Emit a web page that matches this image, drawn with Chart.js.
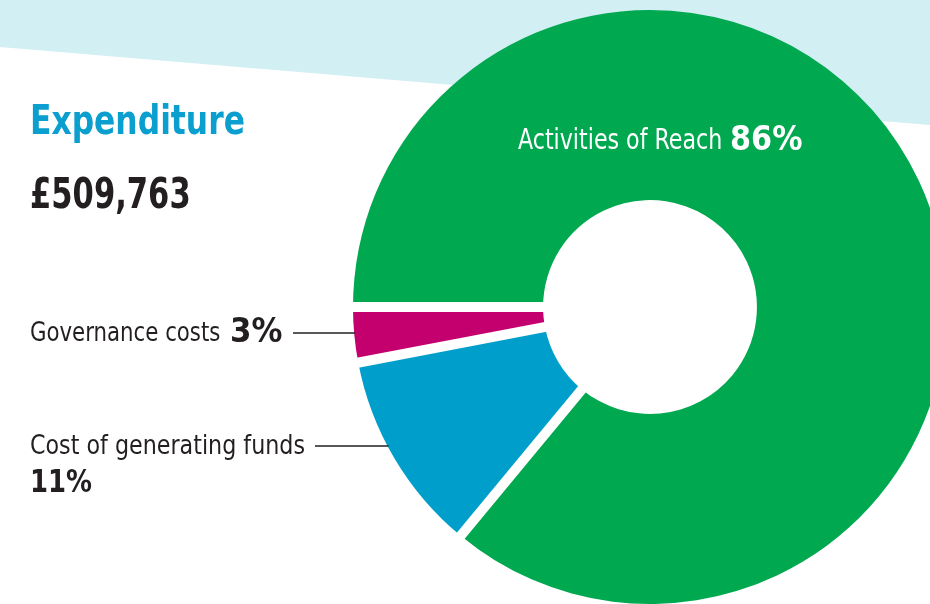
<!DOCTYPE html>
<html>
<head>
<meta charset="utf-8">
<script src="https://cdn.jsdelivr.net/npm/chart.js@4.4.0/dist/chart.umd.min.js"></script>
<style>
  html, body { margin:0; padding:0; width:930px; height:604px; overflow:hidden; background:#ffffff; }
  #band { position:absolute; left:0; top:0; width:930px; height:604px; background:#d2eff3;
          clip-path: polygon(0 0, 930px 0, 930px 125px, 0 47px); }
  #wrap { position:absolute; left:0; top:0; width:947px; height:604px; }
  .t { position:absolute; white-space:nowrap; line-height:1; transform-origin:0 0;
       font-family:"Liberation Sans Narrow","DejaVu Sans Condensed","Roboto Condensed","Liberation Sans",sans-serif; }
  .b { font-weight:bold; }
</style>
</head>
<body>
<div id="band"></div>
<div id="wrap"><canvas id="c"></canvas></div>
<div class="t b" id="title" style="left:30px;top:100px;font-size:41px;color:#0a9fce;transform:scaleX(0.85);"></div>
<div class="t b" id="total" style="left:30px;top:173px;font-size:42px;color:#231f20;transform:scaleX(0.81);"></div>
<div class="t" id="lblGov" style="left:30px;top:319px;font-size:26px;color:#231f20;transform:scaleX(0.91);"></div>
<div class="t b" id="lblGovPct" style="left:230px;top:314px;font-size:33px;color:#231f20;transform:scaleX(1.04);"></div>
<div class="t" id="lblCost" style="left:30px;top:432px;font-size:26px;color:#231f20;transform:scaleX(0.95);"></div>
<div class="t b" id="lblCostPct" style="left:30px;top:465px;font-size:32px;color:#231f20;transform:scaleX(0.9);"></div>
<div class="t" id="lblAct" style="left:518px;top:126px;font-size:28px;color:#ffffff;transform:scaleX(0.88);"></div>
<div class="t b" id="lblActPct" style="left:730px;top:121px;font-size:34px;color:#ffffff;transform:scaleX(0.99);"></div>
<script>
const titleText = 'Expenditure';
const totalText = '£509,763';
const categories = ['Activities of Reach', 'Cost of generating funds', 'Governance costs'];
const values = [86, 11, 3];
const colors = ['#00a84f', '#009fcb', '#c4006e'];

document.getElementById('title').textContent = titleText;
document.getElementById('total').textContent = totalText;
document.getElementById('lblGov').textContent = categories[2];
document.getElementById('lblGovPct').textContent = values[2] + '%';
document.getElementById('lblCost').textContent = categories[1];
document.getElementById('lblCostPct').textContent = values[1] + '%';
document.getElementById('lblAct').textContent = categories[0];
document.getElementById('lblActPct').textContent = values[0] + '%';

// white radial separators between slices + leader lines
const decoPlugin = {
  id: 'deco',
  afterDatasetsDraw(chart) {
    const ctx = chart.ctx;
    const meta = chart.getDatasetMeta(0);
    const a0 = meta.data[0];
    const cx = a0.x, cy = a0.y, R = a0.outerRadius, r = a0.innerRadius;
    ctx.save();
    ctx.beginPath();
    ctx.arc(cx, cy, R + 0.5, 0, Math.PI * 2);
    ctx.clip();
    ctx.strokeStyle = '#ffffff';
    ctx.lineWidth = 10;
    meta.data.forEach(arc => {
      const ang = arc.startAngle;
      ctx.beginPath();
      ctx.moveTo(cx + Math.cos(ang) * (r - 2), cy + Math.sin(ang) * (r - 2));
      ctx.lineTo(cx + Math.cos(ang) * (R + 2), cy + Math.sin(ang) * (R + 2));
      ctx.stroke();
    });
    ctx.restore();

    const leaders = [ {idx: 2, x0: 293, y: 333}, {idx: 1, x0: 315, y: 446} ];
    ctx.save();
    ctx.strokeStyle = '#231f20';
    ctx.lineWidth = 1.3;
    leaders.forEach(l => {
      const arc = meta.data[l.idx];
      const dy = l.y - arc.y;
      const x1 = arc.x - Math.sqrt(Math.max(arc.outerRadius * arc.outerRadius - dy * dy, 0)) + 1;
      ctx.beginPath();
      ctx.moveTo(l.x0, l.y);
      ctx.lineTo(x1, l.y);
      ctx.stroke();
    });
    ctx.restore();
  }
};

new Chart(document.getElementById('c'), {
  type: 'doughnut',
  data: {
    labels: categories,
    datasets: [{ data: values, backgroundColor: colors, borderWidth: 0 }]
  },
  options: {
    responsive: true,
    maintainAspectRatio: false,
    animation: false,
    events: [],
    rotation: -90,
    cutout: '36%',
    layout: { padding: { left: 353, top: 10, right: 0, bottom: 0 } },
    plugins: { legend: { display: false }, tooltip: { enabled: false }, title: { display: false } }
  },
  plugins: [decoPlugin]
});
</script>
</body>
</html>
